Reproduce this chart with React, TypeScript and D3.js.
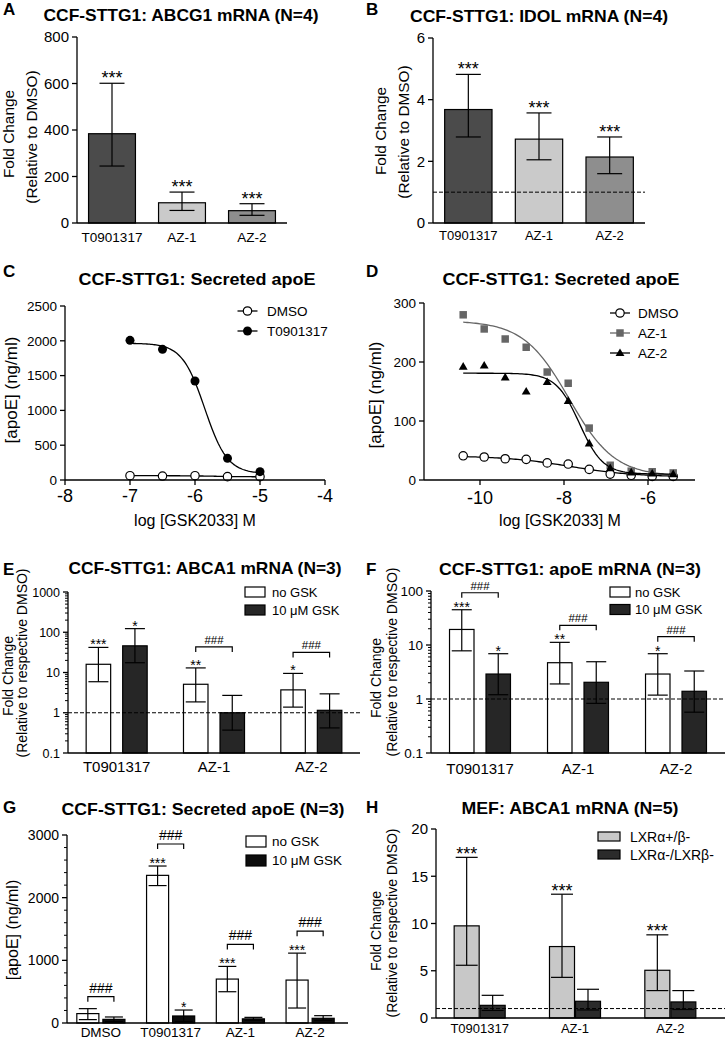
import React from 'react';
import * as d3 from 'd3';

const FONT = '"Liberation Sans", Arial, Helvetica, sans-serif';

// ---------- Panel A: ABCG1 mRNA ----------
const drugCats = ['T0901317', 'AZ-1', 'AZ-2'];
const abcg1Mean = [384, 87, 53];
const abcg1Upper = [601, 133, 83];
const abcg1Lower = [245, 54, 33];
const abcg1Stars = ['***', '***', '***'];
const abcg1Ticks = [0, 200, 400, 600, 800];

// ---------- Panel B: IDOL mRNA ----------
const idolMean = [3.68, 2.72, 2.14];
const idolUpper = [4.82, 3.57, 2.79];
const idolLower = [2.79, 2.05, 1.6];
const idolStars = ['***', '***', '***'];
const idolTicks = [0, 2, 4, 6];

// ---------- Panel C: secreted apoE dose response ----------
const cLogDose = [-7, -6.5, -6, -5.5, -5];
const cT0901317 = [2007, 1877, 1422, 311, 120];
const cDMSO = [62, 57, 62, 48, 48];
const cTicksX = [-8, -7, -6, -5, -4];
const cTicksY = [0, 500, 1000, 1500, 2000, 2500];
const cFitT0901317 = { top: 1965, bottom: 90, logEC50: -5.85, hill: 2.5 };
const cFitDMSO = { top: 62, bottom: 46, logEC50: -5.7, hill: 2 };

// ---------- Panel D: secreted apoE dose response ----------
const dLogDose = [-10.4, -9.9, -9.4, -8.9, -8.4, -7.9, -7.4, -6.9, -6.4, -5.9, -5.4];
const dAZ1 = [280, 256, 239, 225, 183, 164, 88, 25, 15, 14, 12];
const dAZ2 = [192, 194, 174, 150, 166, 134, 62, 20, 13, 11, 10];
const dDMSO = [41, 39, 36, 35, 29, 27, 18, 10, 8, 6, 6];
const dTicksX = [-10, -8, -6];
const dTicksY = [0, 100, 200, 300];
const dFitAZ1 = { top: 270, bottom: 6, logEC50: -7.88, hill: 0.8 };
const dFitAZ2 = { top: 181, bottom: 10, logEC50: -7.63, hill: 1.56 };
const dFitDMSO = { top: 41, bottom: 5, logEC50: -7.85, hill: 0.55 };

// ---------- Panel E: ABCA1 mRNA ----------
const gskSeries = ['no GSK', '10 \u03bcM GSK'];
const eNoGskMean = [16, 5.1, 3.7];
const eNoGskUpper = [42, 13, 9.5];
const eNoGskLower = [5.9, 1.86, 1.38];
const eGskMean = [46, 1.0, 1.15];
const eGskUpper = [123, 2.7, 2.95];
const eGskLower = [17.5, 0.37, 0.42];
const eNoGskStars = ['***', '**', '*'];
const eGskStars = ['*', '', ''];
const eBrackets = [false, true, true];
const eTicks = [0.1, 1, 10, 100, 1000];
const eTickLabels = ['0.1', '1', '10', '100', '1000'];

// ---------- Panel F: apoE mRNA ----------
const fNoGskMean = [19.4, 4.7, 2.9];
const fNoGskUpper = [45, 11.2, 6.9];
const fNoGskLower = [7.8, 1.9, 1.18];
const fGskMean = [2.9, 2.04, 1.39];
const fGskUpper = [6.9, 4.9, 3.3];
const fGskLower = [1.2, 0.83, 0.57];
const fNoGskStars = ['***', '**', '*'];
const fGskStars = ['*', '', ''];
const fBrackets = [true, true, true];
const fTicks = [0.1, 1, 10, 100];
const fTickLabels = ['0.1', '1', '10', '100'];

// ---------- Panel G: secreted apoE ----------
const gCats = ['DMSO', 'T0901317', 'AZ-1', 'AZ-2'];
const gNoGskMean = [150, 2356, 701, 685];
const gNoGskUpper = [229, 2505, 903, 1115];
const gNoGskLower = [54, 2193, 499, 239];
const gGskMean = [58, 112, 66, 75];
const gGskUpper = [96, 207, 90, 117];
const gGskLower = [22, 25, 45, 40];
const gNoGskStars = ['', '***', '***', '***'];
const gGskStars = ['', '*', '', ''];
const gBrackets = [true, true, true, true];
const gTicks = [0, 1000, 2000, 3000];

// ---------- Panel H: MEF ABCA1 mRNA ----------
const hSeries = ['LXR\u03b1+/\u03b2-', 'LXR\u03b1-/LXR\u03b2-'];
const hHetMean = [9.75, 7.56, 5.05];
const hHetUpper = [17.0, 13.1, 8.8];
const hHetLower = [5.58, 4.3, 2.9];
const hKoMean = [1.34, 1.77, 1.7];
const hKoUpper = [2.4, 3.04, 2.9];
const hKoLower = [0.8, 0.85, 0.9];
const hHetStars = ['***', '***', '***'];
const hKoStars = ['', '', ''];
const hTicks = [0, 5, 10, 15, 20];

type Fit = { top: number; bottom: number; logEC50: number; hill: number };
const fourPL = (p: Fit, x: number) => p.bottom + (p.top - p.bottom) / (1 + Math.pow(10, (x - p.logEC50) * p.hill));

const LW = 1.3;

function ErrorBar({ cx, yTop, yBot, hw }: { cx: number; yTop: number; yBot: number; hw: number }) {
  return (
    <g stroke="#000" strokeWidth={1.2}>
      <line x1={cx} x2={cx} y1={yTop} y2={yBot} />
      <line x1={cx - hw} x2={cx + hw} y1={yTop} y2={yTop} />
      <line x1={cx - hw} x2={cx + hw} y1={yBot} y2={yBot} />
    </g>
  );
}

function YAxis({ x, y0, y1, scale, ticks, labels, fs, minor }: any) {
  return (
    <g>
      <line x1={x} x2={x} y1={y0} y2={y1} stroke="#000" strokeWidth={LW} />
      {(minor || []).map((t: number, i: number) => (
        <line key={'m' + i} x1={x - 3} x2={x} y1={scale(t)} y2={scale(t)} stroke="#000" strokeWidth={1} />
      ))}
      {ticks.map((t: number, i: number) => (
        <g key={i}>
          <line x1={x - 5} x2={x} y1={scale(t)} y2={scale(t)} stroke="#000" strokeWidth={LW} />
          <text x={x - 8} y={scale(t)} dy="0.36em" textAnchor="end" fontSize={fs}>
            {labels ? labels[i] : String(t)}
          </text>
        </g>
      ))}
    </g>
  );
}

function RotLabel({ x, y, fs, children }: any) {
  return (
    <text transform={`translate(${x},${y}) rotate(-90)`} textAnchor="middle" fontSize={fs}>
      {children}
    </text>
  );
}

function Title({ x, y, w, children }: any) {
  return (
    <text x={x} y={y} textAnchor="middle" fontSize={16.5} fontWeight="bold" textLength={w} lengthAdjust="spacingAndGlyphs">
      {children}
    </text>
  );
}

function Letter({ x, y, children }: any) {
  return (
    <text x={x} y={y} fontSize={17} fontWeight="bold">
      {children}
    </text>
  );
}

function SimpleBars(p: any) {
  const { cats, mean, upper, lower, stars, ticks, fills, xl, xr, yb, yt, yMax, tickFs, catFs, catDy, starFs, starDy, capHw, dashed } = p;
  const x = d3.scaleBand<string>().domain(cats).range([xl, xr]).paddingInner(0.33).paddingOuter(0.165);
  const y = d3.scaleLinear().domain([0, yMax]).range([yb, yt]);
  return (
    <g>
      {cats.map((c: string, i: number) => {
        const cx = (x(c) as number) + x.bandwidth() / 2;
        return (
          <g key={c}>
            <rect x={x(c)} y={y(mean[i])} width={x.bandwidth()} height={yb - y(mean[i])} fill={fills[i]} stroke="#000" strokeWidth={1.2} />
            <ErrorBar cx={cx} yTop={y(upper[i])} yBot={y(lower[i])} hw={capHw} />
            <text x={cx} y={y(upper[i]) + starDy} fontSize={starFs} textAnchor="middle">{stars[i]}</text>
            <text x={cx} y={yb + catDy} fontSize={catFs} textAnchor="middle">{c}</text>
          </g>
        );
      })}
      {dashed !== undefined && (
        <line x1={xl} x2={xr} y1={y(dashed)} y2={y(dashed)} stroke="#000" strokeWidth={1} strokeDasharray="4 2" />
      )}
      <YAxis x={xl} y0={yb} y1={yt} scale={y} ticks={ticks} fs={tickFs} />
      <line x1={xl} x2={xr} y1={yb} y2={yb} stroke="#000" strokeWidth={LW} />
    </g>
  );
}

function GroupBars(p: any) {
  const {
    cats, series, means, uppers, lowers, starsArr, fills, brackets, y, xl, xr, xRange, yb, yt,
    padOuter, padInner, ticks, tickLabels, minor, tickFs, catFs, catDy, starFs, starDy, capHw,
    bracketOff, bracketOffNoStar, hashFs, hashDy, dashed, legend,
  } = p;
  const x0 = d3.scaleBand<string>().domain(cats).range(xRange).paddingInner(padOuter).paddingOuter(padOuter / 2);
  const x1 = d3.scaleBand<string>().domain(series).range([0, x0.bandwidth()]).paddingInner(padInner).paddingOuter(0);
  return (
    <g>
      {cats.map((c: string, gi: number) => {
        const gx = x0(c) as number;
        const centers = series.map((s: string) => gx + (x1(s) as number) + x1.bandwidth() / 2);
        return (
          <g key={c}>
            {series.map((s: string, si: number) => {
              const bx = gx + (x1(s) as number);
              const cx = centers[si];
              return (
                <g key={s}>
                  <rect x={bx} y={y(means[si][gi])} width={x1.bandwidth()} height={yb - y(means[si][gi])} fill={fills[si]} stroke="#000" strokeWidth={1.2} />
                  <ErrorBar cx={cx} yTop={y(uppers[si][gi])} yBot={y(lowers[si][gi])} hw={capHw} />
                  {starsArr[si][gi] && (
                    <text x={cx} y={y(uppers[si][gi]) + starDy} fontSize={starFs} textAnchor="middle">{starsArr[si][gi]}</text>
                  )}
                </g>
              );
            })}
            {brackets && brackets[gi] && (() => {
              const by = y(uppers[0][gi]) - (starsArr[0][gi] ? bracketOff : bracketOffNoStar);
              return (
                <g>
                  <path d={`M${centers[0]},${by + 5}V${by}H${centers[1]}V${by + 5}`} fill="none" stroke="#000" strokeWidth={1.2} />
                  <text x={(centers[0] + centers[1]) / 2} y={by - hashDy} fontSize={hashFs} textAnchor="middle">###</text>
                </g>
              );
            })()}
            <text x={gx + x0.bandwidth() / 2} y={yb + catDy} fontSize={catFs} textAnchor="middle">{c}</text>
          </g>
        );
      })}
      {dashed !== undefined && (
        <line x1={xl} x2={xr} y1={y(dashed)} y2={y(dashed)} stroke="#000" strokeWidth={1} strokeDasharray="4 2" />
      )}
      <YAxis x={xl} y0={yb} y1={yt} scale={y} ticks={ticks} labels={tickLabels} fs={tickFs} minor={minor} />
      <line x1={xl} x2={xr} y1={yb} y2={yb} stroke="#000" strokeWidth={LW} />
      {legend.items.map((it: string, i: number) => (
        <g key={it}>
          <rect x={legend.x} y={legend.y + i * legend.dy} width={legend.w} height={legend.h} fill={fills[i]} stroke="#000" strokeWidth={1.2} />
          <text x={legend.tx} y={legend.y + i * legend.dy + legend.h / 2} dy="0.36em" fontSize={legend.fs}>{it}</text>
        </g>
      ))}
    </g>
  );
}

function logMinor(lo: number, hi: number) {
  const out: number[] = [];
  for (let e = Math.round(Math.log10(lo)); e < Math.round(Math.log10(hi)); e++) {
    for (let k = 2; k <= 9; k++) out.push(k * Math.pow(10, e));
  }
  return out;
}

function CurveSeries({ xs, ys, fit, x, y, color, marker }: any) {
  const xsFine = d3.range(0, 101).map((i) => xs[0] + ((xs[xs.length - 1] - xs[0]) * i) / 100);
  const line = d3.line<number>().x((v) => x(v)).y((v) => y(fourPL(fit, v)));
  return (
    <g>
      <path d={line(xsFine) as string} fill="none" stroke={color} strokeWidth={1.3} />
      {xs.map((v: number, i: number) => (
        <Marker key={i} kind={marker} cx={x(v)} cy={y(ys[i])} color={color} />
      ))}
    </g>
  );
}

function Marker({ kind, cx, cy, color }: any) {
  if (kind === 'open') return <circle cx={cx} cy={cy} r={4.2} fill="#fff" stroke="#000" strokeWidth={1.2} />;
  if (kind === 'filled') return <circle cx={cx} cy={cy} r={4.5} fill="#000" />;
  if (kind === 'square') return <path transform={`translate(${cx},${cy})`} d={d3.symbol(d3.symbolSquare, 56)() as string} fill={color} />;
  return <path transform={`translate(${cx},${cy + 0.5})`} d={d3.symbol(d3.symbolTriangle, 34)() as string} fill={color} />;
}

function LegendLine({ x, y, kind, color, label, fs, tx }: any) {
  return (
    <g>
      <line x1={x - 10} x2={x + 10} y1={y} y2={y} stroke={color} strokeWidth={1.3} />
      <Marker kind={kind} cx={x} cy={y} color={color} />
      <text x={tx} y={y} dy="0.36em" fontSize={fs}>{label}</text>
    </g>
  );
}

function PanelC() {
  const x = d3.scaleLinear().domain([-8, -4]).range([65, 325]);
  const y = d3.scaleLinear().domain([0, 2500]).range([480, 306]);
  return (
    <g>
      <CurveSeries xs={cLogDose} ys={cDMSO} fit={cFitDMSO} x={x} y={y} color="#000" marker="open" />
      <CurveSeries xs={cLogDose} ys={cT0901317} fit={cFitT0901317} x={x} y={y} color="#000" marker="filled" />
      <YAxis x={65} y0={480} y1={306} scale={y} ticks={cTicksY} fs={13.5} />
      <line x1={65} x2={325} y1={480} y2={480} stroke="#000" strokeWidth={LW} />
      {cTicksX.map((t) => (
        <g key={t}>
          <line x1={x(t)} x2={x(t)} y1={480} y2={485} stroke="#000" strokeWidth={LW} />
          <text x={x(t)} y={502} fontSize={18} textAnchor="middle">{String(t)}</text>
        </g>
      ))}
      <text x={195} y={526} fontSize={16} textAnchor="middle">log [GSK2033] M</text>
      <RotLabel x={17} y={390} fs={17}>[apoE] (ng/ml)</RotLabel>
      <LegendLine x={247.5} y={311} kind="open" color="#000" label="DMSO" fs={13.5} tx={267} />
      <LegendLine x={247.5} y={331} kind="filled" color="#000" label="T0901317" fs={13.5} tx={267} />
    </g>
  );
}

function PanelD() {
  const x = d3.scaleLinear().domain([-10, -6]).range([480, 648]);
  const y = d3.scaleLinear().domain([0, 300]).range([480, 303]);
  const gray = '#666666';
  return (
    <g>
      <CurveSeries xs={dLogDose} ys={dDMSO} fit={dFitDMSO} x={x} y={y} color="#000" marker="open" />
      <CurveSeries xs={dLogDose} ys={dAZ1} fit={dFitAZ1} x={x} y={y} color={gray} marker="square" />
      <CurveSeries xs={dLogDose} ys={dAZ2} fit={dFitAZ2} x={x} y={y} color="#000" marker="triangle" />
      <YAxis x={424} y0={480} y1={303} scale={y} ticks={dTicksY} fs={13.5} />
      <line x1={424} x2={695} y1={480} y2={480} stroke="#000" strokeWidth={LW} />
      {dTicksX.map((t) => (
        <g key={t}>
          <line x1={x(t)} x2={x(t)} y1={480} y2={485} stroke="#000" strokeWidth={LW} />
          <text x={x(t)} y={504} fontSize={18} textAnchor="middle">{String(t)}</text>
        </g>
      ))}
      <text x={560} y={526} fontSize={16} textAnchor="middle">log [GSK2033] M</text>
      <RotLabel x={381} y={395} fs={17}>[apoE] (ng/ml)</RotLabel>
      <LegendLine x={620} y={313} kind="open" color="#000" label="DMSO" fs={13.5} tx={638} />
      <LegendLine x={620} y={333} kind="square" color={gray} label="AZ-1" fs={13.5} tx={638} />
      <LegendLine x={620} y={353} kind="triangle" color="#000" label="AZ-2" fs={13.5} tx={638} />
    </g>
  );
}

export default function App() {
  const drugFills = ['#4b4b4b', '#cacaca', '#8e8e8e'];
  const eY = d3.scaleLog().domain([0.1, 1000]).range([753, 592]);
  const fY = d3.scaleLog().domain([0.1, 100]).range([753, 591]);
  const gY = d3.scaleLinear().domain([0, 3000]).range([1023, 835]);
  const hY = d3.scaleLinear().domain([0, 20]).range([1018, 829]);
  const gMinor = d3.range(200, 3000, 200).filter((v) => v % 1000 !== 0);
  return (
    <svg width={726} height={1041} style={{ position: 'absolute', left: 0, top: 0, background: '#fff' }} fontFamily={FONT}>
      <rect x={0} y={0} width={726} height={1041} fill="#fff" />
      {/* A */}
      <Letter x={3} y={15}>A</Letter>
      <Title x={181} y={21} w={275}>CCF-STTG1: ABCG1 mRNA (N=4)</Title>
      <RotLabel x={14} y={134} fs={15.4}>Fold Change</RotLabel>
      <RotLabel x={37} y={137} fs={15.4}>(Relative to DMSO)</RotLabel>
      <SimpleBars cats={drugCats} mean={abcg1Mean} upper={abcg1Upper} lower={abcg1Lower} stars={abcg1Stars}
        ticks={abcg1Ticks} fills={drugFills} xl={77} xr={287} yb={223} yt={37} yMax={800}
        tickFs={15} catFs={13.5} catDy={19} starFs={18} starDy={1} capHw={12.5} />
      {/* B */}
      <Letter x={366} y={15}>B</Letter>
      <Title x={539} y={22} w={258}>CCF-STTG1: IDOL mRNA (N=4)</Title>
      <RotLabel x={386} y={131} fs={15.4}>Fold Change</RotLabel>
      <RotLabel x={409} y={132} fs={15.4}>(Relative to DMSO)</RotLabel>
      <SimpleBars cats={drugCats} mean={idolMean} upper={idolUpper} lower={idolLower} stars={idolStars}
        ticks={idolTicks} fills={drugFills} xl={433} xr={645} yb={223} yt={38} yMax={6}
        tickFs={15} catFs={13} catDy={17} starFs={18} starDy={1} capHw={12.5} dashed={1} />
      {/* C */}
      <Letter x={3} y={277}>C</Letter>
      <Title x={197} y={285} w={237}>CCF-STTG1: Secreted apoE</Title>
      <PanelC />
      {/* D */}
      <Letter x={366} y={277}>D</Letter>
      <Title x={561} y={285} w={237}>CCF-STTG1: Secreted apoE</Title>
      <PanelD />
      {/* E */}
      <Letter x={3} y={575}>E</Letter>
      <Title x={205} y={574} w={273}>CCF-STTG1: ABCA1 mRNA (N=3)</Title>
      <RotLabel x={12.5} y={676} fs={14}>Fold Change</RotLabel>
      <RotLabel x={26.5} y={663} fs={14}>(Relative to respective DMSO)</RotLabel>
      <GroupBars cats={drugCats} series={gskSeries}
        means={[eNoGskMean, eGskMean]} uppers={[eNoGskUpper, eGskUpper]} lowers={[eNoGskLower, eGskLower]}
        starsArr={[eNoGskStars, eGskStars]} fills={['#ffffff', '#262626']} brackets={eBrackets}
        y={eY} xl={68} xr={360} xRange={[68, 360]} yb={753} yt={592} padOuter={0.373} padInner={0.329}
        ticks={eTicks} tickLabels={eTickLabels} minor={logMinor(0.1, 1000)} tickFs={12.5} catFs={15} catDy={19}
        starFs={14} starDy={2} capHw={10} bracketOff={21} bracketOffNoStar={12} hashFs={11.5} hashDy={3} dashed={1}
        legend={{ items: gskSeries, x: 245, y: 587, dy: 18, w: 20, h: 10, tx: 272, fs: 13 }} />
      {/* F */}
      <Letter x={366} y={575}>F</Letter>
      <Title x={570} y={575} w={262}>CCF-STTG1: apoE mRNA (N=3)</Title>
      <RotLabel x={381} y={678} fs={14}>Fold Change</RotLabel>
      <RotLabel x={397} y={662} fs={14}>(Relative to respective DMSO)</RotLabel>
      <GroupBars cats={drugCats} series={gskSeries}
        means={[fNoGskMean, fGskMean]} uppers={[fNoGskUpper, fGskUpper]} lowers={[fNoGskLower, fGskLower]}
        starsArr={[fNoGskStars, fGskStars]} fills={['#ffffff', '#262626']} brackets={fBrackets}
        y={fY} xl={431} xr={725} xRange={[431, 725]} yb={753} yt={591} padOuter={0.378} padInner={0.329}
        ticks={fTicks} tickLabels={fTickLabels} minor={logMinor(0.1, 100)} tickFs={13.5} catFs={15} catDy={21}
        starFs={14} starDy={2} capHw={10} bracketOff={17} bracketOffNoStar={12} hashFs={11.5} hashDy={3} dashed={1}
        legend={{ items: gskSeries, x: 610, y: 587, dy: 17.5, w: 20, h: 10, tx: 635, fs: 13 }} />
      {/* G */}
      <Letter x={3} y={813}>G</Letter>
      <Title x={203} y={815} w={283}>CCF-STTG1: Secreted apoE (N=3)</Title>
      <RotLabel x={17.5} y={930} fs={16}>[apoE] (ng/ml)</RotLabel>
      <GroupBars cats={gCats} series={gskSeries}
        means={[gNoGskMean, gGskMean]} uppers={[gNoGskUpper, gGskUpper]} lowers={[gNoGskLower, gGskLower]}
        starsArr={[gNoGskStars, gGskStars]} fills={['#ffffff', '#0d0d0d']} brackets={gBrackets}
        y={gY} xl={67} xr={348} xRange={[66, 345]} yb={1023} yt={835} padOuter={0.31} padInner={0.154}
        ticks={gTicks} minor={gMinor} tickFs={14} catFs={13.5} catDy={14}
        starFs={14} starDy={2} capHw={9} bracketOff={22} bracketOffNoStar={12} hashFs={14} hashDy={4}
        legend={{ items: gskSeries, x: 246, y: 836, dy: 19, w: 20, h: 11, tx: 272, fs: 13.5 }} />
      {/* H */}
      <Letter x={366} y={813}>H</Letter>
      <Title x={570} y={814} w={217}>MEF: ABCA1 mRNA (N=5)</Title>
      <RotLabel x={381} y={931} fs={14}>Fold Change</RotLabel>
      <RotLabel x={397} y={923} fs={14}>(Relative to respective DMSO)</RotLabel>
      <GroupBars cats={drugCats} series={hSeries}
        means={[hHetMean, hKoMean]} uppers={[hHetUpper, hKoUpper]} lowers={[hHetLower, hKoLower]}
        starsArr={[hHetStars, hKoStars]} fills={['#c8c8c8', '#2b2b2b']} brackets={null}
        y={hY} xl={436} xr={725} xRange={[432, 718]} yb={1018} yt={829} padOuter={0.465} padInner={0.038}
        ticks={hTicks} tickFs={15} catFs={13} catDy={15}
        starFs={18} starDy={2.5} capHw={11} dashed={1}
        legend={{ items: hSeries, x: 598, y: 832, dy: 18, w: 22, h: 9, tx: 630, fs: 14 }} />
    </svg>
  );
}
